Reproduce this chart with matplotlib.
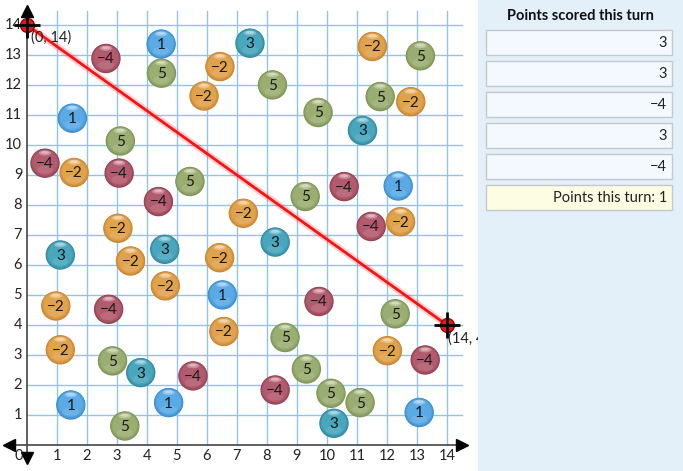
import matplotlib
matplotlib.use("Agg")
import matplotlib.pyplot as plt
from matplotlib.patches import Circle, Ellipse, Rectangle
from matplotlib.colors import to_rgb
import numpy as np

plt.rcParams['font.family'] = ['Lato', 'DejaVu Sans']

# ---- data ----
ball_x = [4.48, 7.44, 11.52, 13.12, 2.64, 4.49, 6.44, 5.91, 8.19, 9.71, 11.78, 12.80,
          11.19, 1.52, 3.12, 0.61, 1.58, 3.08, 5.44, 4.39, 7.22, 9.28, 10.58, 12.38,
          11.48, 12.46, 3.04, 1.12, 4.60, 3.46, 6.43, 8.28, 4.62, 6.52, 0.97, 2.73,
          9.74, 6.57, 12.28, 8.61, 1.12, 12.02, 13.28, 2.86, 3.80, 5.54, 9.32, 8.28,
          10.14, 11.11, 1.47, 4.73, 13.08, 10.24, 3.27]
ball_y = [13.36, 13.39, 13.28, 12.97, 12.88, 12.39, 12.61, 11.63, 12.00, 11.08, 11.61, 11.44,
          10.48, 10.89, 10.13, 9.39, 9.08, 9.06, 8.78, 8.11, 7.72, 8.28, 8.61, 8.63,
          7.28, 7.44, 7.22, 6.33, 6.52, 6.13, 6.24, 6.76, 5.30, 5.00, 4.63, 4.52,
          4.78, 3.78, 4.37, 3.58, 3.17, 3.14, 2.83, 2.80, 2.41, 2.30, 2.53, 1.83,
          1.72, 1.41, 1.33, 1.41, 1.08, 0.72, 0.63]
ball_val = [1, 3, -2, 5, -4, 5, -2, -2, 5, 5, 5, -2,
            3, 1, 5, -4, -2, -4, 5, -4, -2, 5, -4, 1,
            -4, -2, -2, 3, 3, -2, -2, 3, -2, 1, -2, -4,
            -4, -2, 5, 5, -2, -2, -4, 5, 3, -4, 5, -4,
            5, 5, 1, 1, 1, 3, 5]

line_x = [0, 14]
line_y = [14, 4]
point_labels = ["(0, 14)", "(14, 4)"]

tick_values = list(range(0, 15))

panel_title = "Points scored this turn"
turn_scores = [3, 3, -4, 3, -4]
turn_total_label = "Points this turn: 1"

# ---- styles ----
colors = {1: ("#5aaae6", "#3d8ccb"), 3: ("#48a6bd", "#33889f"),
          5: ("#9bae72", "#7e9456"), -2: ("#e1a24c", "#c78632"),
          -4: ("#b35b6e", "#934253")}
grid_color = "#92c5e4"


def fmt(v):
    return str(v).replace('-', '\u2212')


def mix(c1, c2, t):
    a = np.array(to_rgb(c1))
    b = np.array(to_rgb(c2))
    return tuple(a * (1 - t) + b * t)


W, H = 683, 471
fig = plt.figure(figsize=(W / 100, H / 100), dpi=100)
fig.patch.set_facecolor("white")

# main area
ax = fig.add_axes([0, 0, 478 / W, 1])
ax.set_xlim(-0.89, 15.04)
ax.set_ylim(-0.87, 14.83)
ax.axis('off')

for t in tick_values[1:]:
    ax.plot([t, t], [0, 14.47], color=grid_color, lw=1, zorder=1)
    ax.plot([0, 14.5], [t, t], color=grid_color, lw=1, zorder=1)

# axes with arrows
ax.plot([-0.65, 14.45], [0, 0], color="#444444", lw=1.2, zorder=2)
ax.plot([0, 0], [-0.5, 14.4], color="#444444", lw=1.2, zorder=2)
ax.plot([14.5], [0], marker='>', color='black', ms=9, zorder=3)
ax.plot([-0.6], [0], marker='<', color='black', ms=9, zorder=3)
ax.plot([0], [14.45], marker='^', color='black', ms=9, zorder=3)
ax.plot([0], [-0.45], marker='v', color='black', ms=9, zorder=3)

for t in tick_values:
    xpos = t if t > 0 else -0.25
    ax.text(xpos, -0.38, str(t), ha='center', va='center', fontsize=10.5, color='#222222', zorder=3)
    if t > 0:
        ax.text(-0.15, t, str(t), ha='right', va='center', fontsize=10.5, color='#222222', zorder=3)

# balls
r = 0.49
steps = 7
for x, y, v in zip(ball_x, ball_y, ball_val):
    base, dark = colors[v]
    for k in range(steps):
        frac = k / (steps - 1)
        rad = r * (1 - 0.22 * frac)
        col = mix(dark, base, min(1.0, frac * 1.3))
        ax.add_patch(Circle((x, y + 0.03 * frac), rad, facecolor=col, edgecolor='none', zorder=4))
    ax.add_patch(Ellipse((x, y - 0.22), r * 1.1, r * 0.55, facecolor='white', alpha=0.10,
                         edgecolor='none', zorder=4))
    ax.add_patch(Ellipse((x, y + 0.34), r * 0.85, r * 0.34, facecolor='white', alpha=0.30,
                         edgecolor='none', zorder=4))
    ax.add_patch(Ellipse((x, y + 0.36), r * 0.55, r * 0.2, facecolor='white', alpha=0.35,
                         edgecolor='none', zorder=4))
    ax.text(x, y - 0.03, fmt(v), ha='center', va='center', fontsize=11, color='#1a1a1a', zorder=5)

# red line
ax.plot(line_x, line_y, color='red', lw=5, alpha=0.18, zorder=6, solid_capstyle='round')
ax.plot(line_x, line_y, color='#ff1010', lw=2, zorder=6)
ax.plot(line_x, line_y, 'o', color='#e81818', mec='#a00000', ms=10, zorder=7)
ax.plot(line_x, line_y, '+', color='black', ms=19, mew=2, zorder=8)
ax.text(line_x[0] + 0.14, line_y[0] - 0.42, point_labels[0], ha='left', va='center',
        fontsize=10.5, color='#222222', zorder=8, clip_on=True)
ax.text(line_x[1] + 0.05, line_y[1] - 0.45, point_labels[1], ha='left', va='center',
        fontsize=10.5, color='#222222', zorder=8, clip_on=True)

# right panel
pax = fig.add_axes([478 / W, 0, 205 / W, 1])
pax.set_xlim(0, 205)
pax.set_ylim(471, 0)
pax.axis('off')
pax.add_patch(Rectangle((0, 0), 205, 471, facecolor="#e3eff9", edgecolor='none', zorder=0))
pax.text(102, 16, panel_title, ha='center', va='center', fontsize=10.5, fontweight='bold',
         color='#111111')
box_top = 29.5
box_h = 25.5
gap = 31.0
for i, s in enumerate(turn_scores):
    top = box_top + i * gap
    pax.add_patch(Rectangle((7.5, top), 186.5, box_h, facecolor="#f4f9ff",
                            edgecolor="#c6c9cc", lw=1, zorder=1))
    pax.text(189, top + box_h / 2 + 0.5, fmt(s), ha='right', va='center', fontsize=10.5,
             color='#222222', zorder=2)
top = box_top + len(turn_scores) * gap
pax.add_patch(Rectangle((7.5, top), 186.5, box_h, facecolor="#fdfde3",
                        edgecolor="#c6c9cc", lw=1, zorder=1))
pax.text(189, top + box_h / 2 + 0.5, turn_total_label, ha='right', va='center', fontsize=10.5,
         color='#222222', zorder=2)

fig.savefig("out.png", dpi=100)
